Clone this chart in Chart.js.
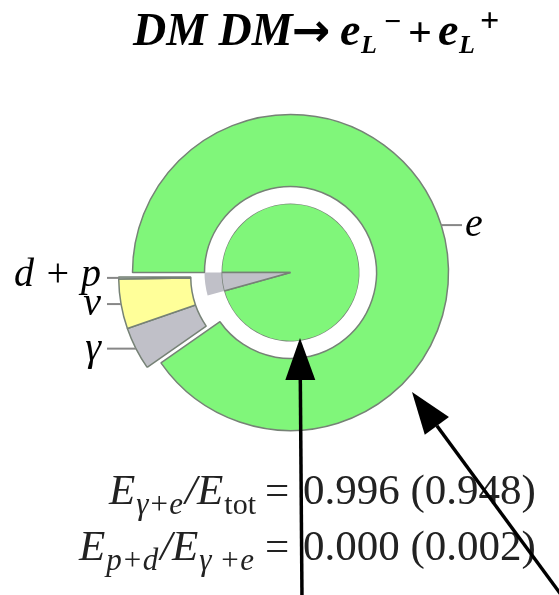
<!DOCTYPE html>
<html>
<head>
<meta charset="utf-8">
<script src="https://cdn.jsdelivr.net/npm/chart.js@4"></script>
<style>
  html, body { margin: 0; padding: 0; background: #fff; }
  #wrap { position: relative; width: 559px; height: 595px; }
  #wrap canvas { position: absolute; left: 0; top: 0; }
</style>
</head>
<body>
<div id="wrap">
  <canvas id="blockChart" width="559" height="595"></canvas>
  <canvas id="pieChart" width="559" height="595"></canvas>
</div>
<script>
// energy shares of the final state, clockwise from the left horizontal
const channels = ['e', 'γ', 'ν', 'd + p'];
const outerShares = [90.3, 4.4, 5.1, 0.2];
const innerParts = ['e', 'γ'];
const innerShares = [95.7, 4.3];
const ratioNames = [
    [['E', 'i'], ['γ+e', 'isub'], ['/E', 'i'], ['tot', 'sub']],
    [['E', 'i'], ['p+d', 'isub'], ['/E', 'i'], ['γ +e', 'isub']]
];
const ratioValues = ['0.996 (0.948)', '0.000 (0.002)'];

const green = 'rgb(128, 246, 122)';
const grey = 'rgb(192, 192, 200)';
const yellow = 'rgb(255, 255, 153)';
const edge = 'rgb(118, 130, 118)';
const clear = 'rgba(0, 0, 0, 0)';
const serif = '"Liberation Serif", "DejaVu Serif", serif';

function drawRuns(ctx, x, y, runs) {
    let cx = x;
    runs.forEach(r => {
        ctx.font = r.font;
        ctx.fillText(r.t, cx, y + (r.dy || 0));
        cx += ctx.measureText(r.t).width + (r.gap || 0);
    });
    return cx;
}

function runsWidth(ctx, runs) {
    let w = 0;
    runs.forEach(r => {
        ctx.font = r.font;
        w += ctx.measureText(r.t).width + (r.gap || 0);
    });
    return w;
}

function arrow(ctx, x0, y0, x1, y1) {
    const a = Math.atan2(y1 - y0, x1 - x0);
    const len = 42, half = 15;
    const bx = x1 - Math.cos(a) * len, by = y1 - Math.sin(a) * len;
    ctx.beginPath();
    ctx.moveTo(x0, y0);
    ctx.lineTo(bx, by);
    ctx.lineWidth = 3.5;
    ctx.strokeStyle = '#000';
    ctx.stroke();
    ctx.beginPath();
    ctx.moveTo(x1, y1);
    ctx.lineTo(bx + Math.sin(a) * half, by - Math.cos(a) * half);
    ctx.lineTo(bx - Math.sin(a) * half, by + Math.cos(a) * half);
    ctx.closePath();
    ctx.fillStyle = '#000';
    ctx.fill();
}

// outer tip of a slice, following how ArcElement applies its offset
function sliceTip(arc) {
    const p = arc.getProps(['x', 'y', 'startAngle', 'endAngle', 'outerRadius']);
    const mid = (p.startAngle + p.endAngle) / 2;
    const off = (arc.options.offset || 0) / 4;
    const fix = 1 - Math.sin(Math.min(Math.PI, p.endAngle - p.startAngle));
    const r = p.outerRadius + off * (1 + fix);
    return {x: p.x + Math.cos(mid) * r, y: p.y + Math.sin(mid) * r};
}

// the small channels are pulled out of the ring as one block
const block = new Chart(document.getElementById('blockChart'), {
    type: 'doughnut',
    data: {
        labels: channels,
        datasets: [{
            data: outerShares,
            backgroundColor: [clear, grey, yellow, grey],
            borderColor: [clear, edge, edge, edge],
            borderWidth: 1.5
        }]
    },
    options: {
        responsive: false,
        animation: false,
        events: [],
        rotation: 270,
        radius: 158,
        cutout: '54.4%',
        layout: { padding: { left: 0, right: 5.6, top: 0, bottom: 41.2 } },
        plugins: { legend: { display: false }, tooltip: { enabled: false } }
    }
});

const decorations = {
    id: 'decorations',
    afterDraw(chart) {
        const ctx = chart.ctx;
        ctx.save();
        ctx.fillStyle = '#000';
        ctx.textBaseline = 'alphabetic';

        // title
        const big = 'bold italic 46px ' + serif;
        const sub = 'bold italic 26px ' + serif;
        ctx.font = big;
        ctx.fillText('DM DM', 133, 45);
        ctx.font = 'bold 46px "DejaVu Sans", sans-serif';
        ctx.fillText('→', 292, 46);
        ctx.font = big;
        ctx.fillText('e', 340, 45);
        ctx.font = sub;
        ctx.fillText('L', 361, 53);
        ctx.font = 'bold 30px ' + serif;
        ctx.fillText('−', 384, 31);
        ctx.font = 'bold 42px ' + serif;
        ctx.fillText('+', 408, 46);
        ctx.font = big;
        ctx.fillText('e', 438, 45);
        ctx.font = sub;
        ctx.fillText('L', 459, 53);
        ctx.font = 'bold 34px ' + serif;
        ctx.fillText('+', 480, 31);

        // slice labels with short leader ticks
        const ring = chart.getDatasetMeta(0).data;
        const pulled = block.getDatasetMeta(0).data;
        ctx.font = 'italic 40px ' + serif;
        channels.forEach((name, i) => {
            const tip = sliceTip(i === 0 ? ring[i] : pulled[i]);
            const right = i === 0;
            const lx = right ? 465 : 101;
            ctx.beginPath();
            ctx.moveTo(tip.x, tip.y);
            ctx.lineTo(right ? lx - 3 : lx + 6, tip.y);
            ctx.lineWidth = 2;
            ctx.strokeStyle = 'rgb(135, 135, 135)';
            ctx.stroke();
            ctx.textAlign = right ? 'left' : 'right';
            ctx.fillText(name, lx, tip.y + (i === 3 ? 8 : 11));
        });
        ctx.textAlign = 'left';

        // energy ratios
        ctx.fillStyle = '#222';
        ratioNames.forEach((parts, k) => {
            const y = 504 + k * 56;
            const runs = parts.map(([t, kind]) => {
                if (kind === 'i') return {t: t, font: 'italic 43px ' + serif, gap: 1};
                if (kind === 'isub') return {t: t, font: 'italic 31px ' + serif, dy: 10, gap: 2};
                return {t: t, font: '30px ' + serif, dy: 10};
            });
            const w = runsWidth(ctx, runs);
            drawRuns(ctx, 256 - w, y, runs);
            ctx.font = '43px ' + serif;
            ctx.fillText('=', 265, y);
            ctx.fillText(ratioValues[k], 303, y);
        });

        arrow(ctx, 302, 600, 300, 338);
        arrow(ctx, 562, 596, 412, 392);
        ctx.restore();
    }
};

new Chart(document.getElementById('pieChart'), {
    type: 'pie',
    data: {
        labels: channels,
        datasets: [{
            data: outerShares,
            weight: 72,
            backgroundColor: [green, clear, clear, clear],
            borderColor: [edge, clear, clear, clear],
            borderWidth: 1.5
        }, {
            data: innerShares,
            weight: 17,
            backgroundColor: ['#ffffff', grey],
            borderWidth: 0
        }, {
            data: innerShares,
            weight: 69,
            backgroundColor: [green, grey],
            borderColor: edge,
            borderWidth: 1.5
        }]
    },
    options: {
        responsive: false,
        animation: false,
        events: [],
        rotation: 270,
        radius: 158,
        layout: { padding: { left: 22, right: 0, top: 0, bottom: 50 } },
        plugins: { legend: { display: false }, tooltip: { enabled: false } }
    },
    plugins: [decorations]
});
</script>
</body>
</html>
